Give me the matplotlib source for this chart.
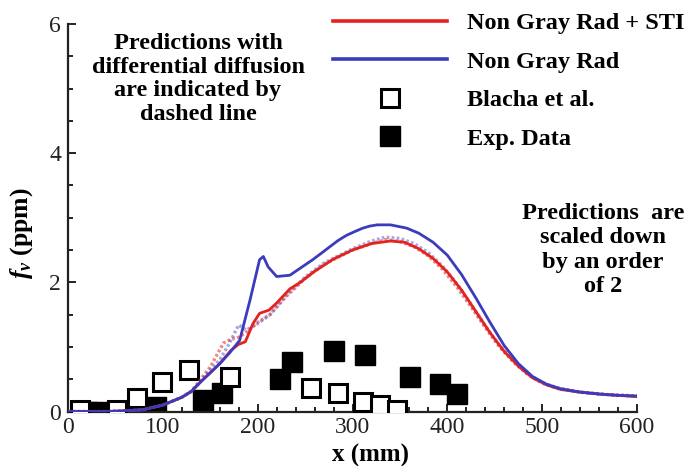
import matplotlib
matplotlib.use("Agg")
import matplotlib.pyplot as plt
from matplotlib.lines import Line2D
from matplotlib.ticker import MultipleLocator

plt.rcParams['font.family'] = ['Liberation Serif', 'DejaVu Serif']
plt.rcParams['mathtext.fontset'] = 'custom'
plt.rcParams['mathtext.rm'] = 'Liberation Serif:bold'
plt.rcParams['mathtext.it'] = 'Liberation Serif:italic:bold'
plt.rcParams['mathtext.bf'] = 'Liberation Serif:bold'

# ---- predicted soot volume fraction (ppm, scaled) ----
x_sti = [0, 20, 40, 60, 80, 100, 120, 130, 140, 150, 160, 172, 180, 187, 195, 202, 212, 220,
         234, 245, 260, 280, 300, 320, 340, 355, 370, 385, 400, 415, 430, 445, 460, 475,
         490, 505, 520, 540, 560, 580, 600]
fv_sti = [0.0, 0.0, 0.0, 0.01, 0.03, 0.1, 0.22, 0.31, 0.46, 0.6, 0.74, 0.95, 1.04, 1.08,
          1.36, 1.52, 1.57, 1.68, 1.9, 2.0, 2.17, 2.36, 2.5, 2.6, 2.64, 2.62, 2.52, 2.37,
          2.16, 1.88, 1.55, 1.22, 0.93, 0.7, 0.52, 0.41, 0.34, 0.3, 0.27, 0.25, 0.23]

x_rad = [0, 20, 40, 60, 80, 100, 120, 130, 140, 150, 160, 170, 181, 192, 202, 206, 211,
         220, 234, 245, 258, 268, 276, 285, 294, 303, 311, 318, 326, 340, 357, 370, 385,
         400, 415, 430, 445, 460, 475, 490, 505, 520, 540, 560, 580, 600]
fv_rad = [0.0, 0.0, 0.0, 0.01, 0.03, 0.1, 0.22, 0.31, 0.46, 0.6, 0.74, 0.9, 1.1, 1.73,
          2.35, 2.4, 2.24, 2.09, 2.11, 2.22, 2.35, 2.46, 2.55, 2.65, 2.73, 2.79, 2.84,
          2.87, 2.89, 2.89, 2.84, 2.76, 2.62, 2.42, 2.12, 1.76, 1.38, 1.02, 0.74, 0.54,
          0.42, 0.35, 0.3, 0.27, 0.25, 0.24]

# differential diffusion variants
x_sti_dd = [0, 20, 40, 60, 80, 100, 120, 130, 140, 150, 164, 172, 180, 190, 200, 213, 230,
            250, 270, 300, 320, 335, 350, 365, 380, 395, 410, 425, 440, 455, 470, 485,
            500, 515, 540, 570, 600]
fv_sti_dd = [0.0, 0.0, 0.0, 0.01, 0.03, 0.1, 0.22, 0.31, 0.5, 0.69, 1.06, 1.12, 1.15, 1.25,
             1.38, 1.5, 1.78, 2.06, 2.28, 2.5, 2.6, 2.66, 2.63, 2.55, 2.41, 2.2, 1.93,
             1.62, 1.3, 1.0, 0.76, 0.57, 0.44, 0.36, 0.3, 0.26, 0.24]

x_rad_dd = [0, 20, 40, 60, 80, 100, 120, 130, 140, 150, 160, 170, 180, 188, 200, 213, 230,
            250, 270, 300, 320, 335, 350, 365, 380, 395, 410, 425, 440, 455, 470, 485,
            500, 515, 540, 570, 600]
fv_rad_dd = [0.0, 0.0, 0.0, 0.01, 0.03, 0.1, 0.22, 0.31, 0.47, 0.64, 0.8, 1.05, 1.34, 1.26,
             1.36, 1.5, 1.8, 2.08, 2.3, 2.52, 2.64, 2.7, 2.68, 2.6, 2.46, 2.25, 1.98,
             1.66, 1.33, 1.02, 0.78, 0.58, 0.45, 0.37, 0.3, 0.26, 0.24]

# ---- measurements ----
x_blacha = [13, 52, 73, 99, 128, 171, 256, 285, 311, 329, 347]
fv_blacha = [0.02, 0.02, 0.21, 0.46, 0.64, 0.54, 0.36, 0.28, 0.15, 0.10, 0.02]

x_exp = [20, 33, 68, 93, 142, 162, 224, 236, 280, 313, 361, 392, 410]
fv_exp = [0.0, 0.0, 0.0, 0.07, 0.18, 0.28, 0.51, 0.77, 0.93, 0.87, 0.54, 0.43, 0.27]

labels = ["Non Gray Rad + STI", "Non Gray Rad", "Blacha et al.", "Exp. Data"]
note_left = "Predictions with\ndifferential diffusion\nare indicated by\ndashed line"
note_right = "Predictions  are\nscaled down\nby an order\nof 2"

RED = "#e5231e"
BLUE = "#3a3cbd"
W, H = 693, 466

fig = plt.figure(figsize=(W / 100, H / 100), dpi=100)
ax = fig.add_axes([68 / W, 1 - 411.5 / H, (637 - 68) / W, (411.5 - 24) / H])

ax.plot(x_exp, fv_exp, ls="none", marker="s", ms=14.5, mfc="black", mec="black", zorder=2)
ax.plot(x_blacha, fv_blacha, ls="none", marker="s", ms=13, mfc="white", mec="black",
        mew=2.2, zorder=3)

ax.plot(x_sti_dd, fv_sti_dd, color=RED, lw=2.4, ls=(0, (0.8, 0.7)), alpha=0.55, zorder=4)
ax.plot(x_rad_dd, fv_rad_dd, color=BLUE, lw=2.4, ls=(0, (0.8, 0.7)), alpha=0.45, zorder=4)
ax.plot(x_sti, fv_sti, color=RED, lw=2.0, zorder=5)
ax.plot(x_rad, fv_rad, color=BLUE, lw=2.0, zorder=5)

ax.set_xlim(0, 600)
ax.set_ylim(0, 6)
ax.xaxis.set_major_locator(MultipleLocator(100))
ax.xaxis.set_minor_locator(MultipleLocator(20))
ax.yaxis.set_major_locator(MultipleLocator(2))
ax.yaxis.set_minor_locator(MultipleLocator(0.5))
for s in ("top", "right"):
    ax.spines[s].set_visible(False)
for s in ("left", "bottom"):
    ax.spines[s].set_linewidth(1.6)
    ax.spines[s].set_color("#222222")
ax.tick_params(which="both", direction="in", color="#222222", width=1.4,
               labelsize=17, labelcolor="#222222")
ax.tick_params(which="major", length=6)
ax.tick_params(which="minor", length=3.5)
ax.tick_params(axis="x", pad=4)
ax.tick_params(axis="y", pad=5)

fig.text(370 / W, 1 - 455 / H, "x (mm)", ha="center", va="center",
         fontsize=18, fontweight="bold")
fig.text(22 / W, 1 - 233 / H, r"$f_v$ (ppm)", ha="center", va="center",
         rotation=90, fontsize=18.5, fontweight="bold")

fig.text(198 / W, 1 - 79 / H, note_left, ha="center", va="center", multialignment="center",
         fontsize=17.5, fontweight="bold", linespacing=1.18)
fig.text(603 / W, 1 - 250 / H, note_right, ha="center", va="center", multialignment="center",
         fontsize=17.5, fontweight="bold", linespacing=1.22)

handles = [
    Line2D([], [], color=RED, lw=2.6),
    Line2D([], [], color=BLUE, lw=2.6),
    Line2D([], [], ls="none", marker="s", ms=12.5, mfc="white", mec="black", mew=2.2),
    Line2D([], [], ls="none", marker="s", ms=14, mfc="black", mec="black"),
]
fig.legend(handles, labels, loc="upper left", bbox_to_anchor=(333 / W, 1 - 12 / H),
           frameon=False, borderpad=0, borderaxespad=0, handlelength=4.7,
           handletextpad=0.8, labelspacing=0.68,
           prop={"family": "Liberation Serif", "weight": "bold", "size": 17.5})

fig.savefig("out.png", dpi=100)
